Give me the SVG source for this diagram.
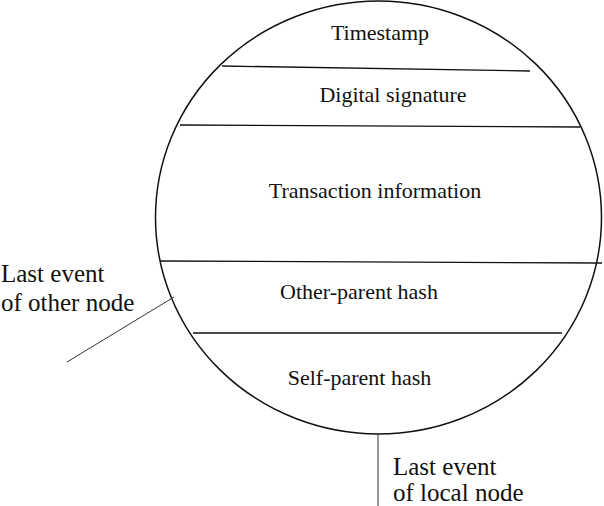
<svg xmlns="http://www.w3.org/2000/svg" width="604" height="506" viewBox="0 0 604 506">
<style>
text{font-family:'Liberation Serif','Times New Roman','DejaVu Serif',serif;fill:#111;}
.in{font-size:22px;text-anchor:middle;}
.out{font-size:25px;}
.div{stroke:#111;stroke-width:1.3;fill:none;}
.con{stroke:#333;stroke-width:1;fill:none;}
</style>
<rect width="604" height="506" fill="#fff"/>
<g id="event">
<ellipse cx="378.5" cy="217.5" rx="223" ry="216.5" fill="none" stroke="#111" stroke-width="1.5"/>
<line class="div" x1="222" y1="66" x2="530" y2="71"/>
<line class="div" x1="180" y1="125" x2="580" y2="127"/>
<line class="div" x1="160" y1="261" x2="602" y2="263"/>
<line class="div" x1="193" y1="333" x2="562" y2="333"/>
</g>
<g id="timestamp"><text class="in" x="380" y="40" font-family="Liberation Serif, serif">Timestamp</text></g>
<g id="digital-signature"><text class="in" x="393" y="102" font-family="Liberation Serif, serif">Digital signature</text></g>
<g id="transaction-information"><text class="in" x="375" y="198" font-family="Liberation Serif, serif">Transaction information</text></g>
<g id="other-parent-hash"><text class="in" x="359" y="299" font-family="Liberation Serif, serif">Other-parent hash</text></g>
<g id="self-parent-hash"><text class="in" x="359.5" y="385" font-family="Liberation Serif, serif">Self-parent hash</text></g>
<g id="last-event-other"><text class="out" x="1" y="282" font-family="Liberation Serif, serif">Last event</text><text class="out" x="1" y="311" font-family="Liberation Serif, serif">of other node</text></g>
<g id="last-event-local"><text class="out" x="393" y="475" font-family="Liberation Serif, serif">Last event</text><text class="out" x="393" y="501" font-family="Liberation Serif, serif">of local node</text></g>
<g id="connectors">
<line class="con" x1="174" y1="297" x2="67" y2="362"/>
<line class="con" x1="378" y1="434" x2="378" y2="506"/>
</g>
</svg>
